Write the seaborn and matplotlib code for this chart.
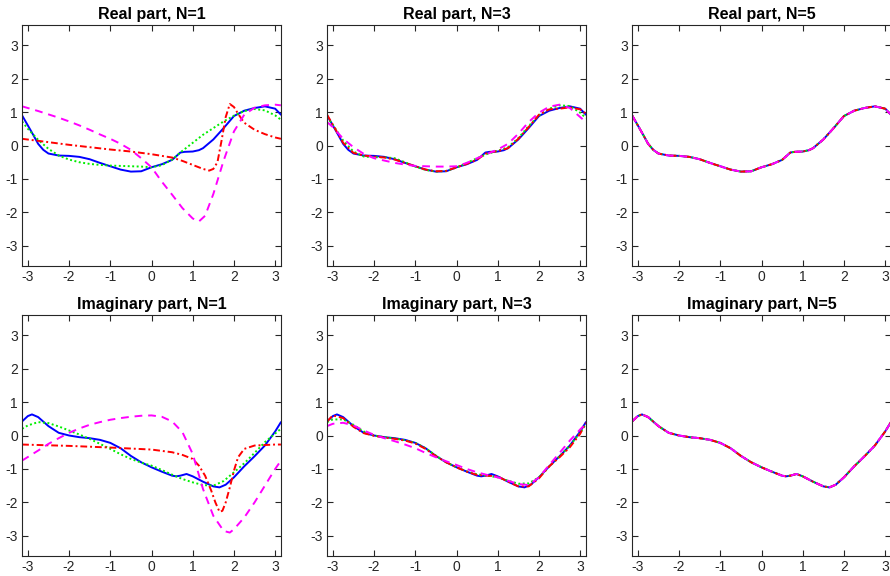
import matplotlib
matplotlib.use("Agg")
import matplotlib.pyplot as plt
import numpy as np
import pandas as pd
import seaborn as sns

# ---------------- data ----------------
x_grid = [-3.14, -3.0, -2.75, -2.5, -2.25, -2.0, -1.75, -1.5, -1.25, -1.0, -0.75,
          -0.5, -0.25, 0.0, 0.25, 0.5, 0.75, 1.0, 1.25, 1.5, 1.75, 2.0, 2.25,
          2.5, 2.75, 3.0, 3.14]

# exact function (blue)
x_blue_re = [-3.14, -3.0, -2.875, -2.75, -2.625, -2.5, -2.25, -2.0, -1.75, -1.5,
             -1.25, -1.0, -0.75, -0.5, -0.25, 0.0, 0.25, 0.5, 0.6, 0.7, 0.8, 1.0,
             1.15, 1.25, 1.5, 1.75, 2.0, 2.25, 2.5, 2.75, 3.0, 3.14]
blue_re = [0.90, 0.60, 0.33, 0.05, -0.13, -0.24, -0.30, -0.31, -0.34, -0.41,
           -0.52, -0.62, -0.72, -0.78, -0.77, -0.65, -0.56, -0.43, -0.32, -0.21,
           -0.19, -0.18, -0.14, -0.08, 0.18, 0.52, 0.88, 1.04, 1.12, 1.17, 1.10, 0.92]

x_blue_im = [-3.14, -3.0, -2.9, -2.75, -2.5, -2.25, -2.0, -1.75, -1.5, -1.25,
             -1.0, -0.75, -0.5, -0.25, 0.0, 0.25, 0.5, 0.6, 0.7, 0.85, 1.0, 1.25,
             1.5, 1.65, 1.8, 2.0, 2.25, 2.5, 2.75, 3.0, 3.14]
blue_im = [0.42, 0.58, 0.63, 0.55, 0.28, 0.08, 0.0, -0.05, -0.08, -0.13,
           -0.22, -0.38, -0.61, -0.80, -0.95, -1.08, -1.20, -1.22, -1.20, -1.15,
           -1.22, -1.38, -1.52, -1.55, -1.47, -1.25, -0.92, -0.62, -0.30, 0.12, 0.40]

# N = 1
green_re_n1 = [0.72, 0.50, 0.17, -0.10, -0.30, -0.42, -0.50, -0.55, -0.58, -0.60,
               -0.61, -0.62, -0.63, -0.65, -0.59, -0.42, -0.16, 0.08, 0.32, 0.52,
               0.72, 0.89, 1.03, 1.09, 1.05, 0.90, 0.77]
x_red_re_n1 = [-3.14, -2.5, -2.0, -1.5, -1.0, -0.5, 0.0, 0.5, 0.75, 1.0, 1.25,
               1.4, 1.5, 1.6, 1.7, 1.8, 1.9, 2.0, 2.1, 2.25, 2.5, 2.75, 3.0, 3.14]
red_re_n1 = [0.20, 0.10, 0.02, -0.05, -0.12, -0.18, -0.26, -0.36, -0.46, -0.58,
             -0.70, -0.75, -0.70, -0.50, 0.15, 0.85, 1.24, 1.15, 0.95, 0.68, 0.47,
             0.34, 0.24, 0.20]
x_mag_re_n1 = [-3.14, -2.75, -2.5, -2.25, -2.0, -1.75, -1.5, -1.25, -1.0, -0.75,
               -0.5, -0.25, 0.0, 0.25, 0.5, 0.75, 1.0, 1.15, 1.3, 1.5, 1.75, 2.0,
               2.25, 2.5, 2.75, 3.0, 3.14]
mag_re_n1 = [1.17, 1.03, 0.93, 0.83, 0.72, 0.60, 0.47, 0.33, 0.20, 0.05, -0.13,
             -0.38, -0.65, -1.08, -1.47, -1.87, -2.18, -2.27, -2.10, -1.45, -0.45,
             0.42, 0.92, 1.13, 1.20, 1.22, 1.20]

green_im_n1 = [0.20, 0.30, 0.40, 0.37, 0.27, 0.15, 0.03, -0.10, -0.25, -0.40,
               -0.56, -0.70, -0.81, -0.90, -1.03, -1.17, -1.30, -1.40, -1.48,
               -1.50, -1.36, -1.10, -0.83, -0.52, -0.20, 0.06, 0.20]
x_red_im_n1 = [-3.14, -2.0, -1.0, 0.0, 0.5, 0.75, 1.0, 1.15, 1.3, 1.45, 1.55,
               1.65, 1.72, 1.8, 1.9, 2.0, 2.1, 2.25, 2.5, 3.0, 3.14]
red_im_n1 = [-0.27, -0.31, -0.36, -0.42, -0.50, -0.58, -0.70, -0.90, -1.20,
             -1.65, -2.00, -2.28, -2.25, -2.00, -1.55, -1.05, -0.65, -0.40,
             -0.30, -0.27, -0.27]
x_mag_im_n1 = [-3.14, -2.75, -2.5, -2.25, -2.0, -1.75, -1.5, -1.25, -1.0, -0.75,
               -0.5, -0.25, 0.0, 0.25, 0.5, 0.75, 1.0, 1.25, 1.5, 1.75, 1.9, 2.0,
               2.25, 2.5, 2.75, 3.0, 3.14]
mag_im_n1 = [-0.75, -0.45, -0.25, -0.08, 0.08, 0.21, 0.32, 0.40, 0.47, 0.52,
             0.56, 0.59, 0.60, 0.56, 0.42, 0.10, -0.55, -1.60, -2.40, -2.85,
             -2.90, -2.80, -2.45, -2.00, -1.50, -1.00, -0.75]

# N = 3
green_re_n3 = [0.85, 0.62, 0.15, -0.18, -0.33, -0.35, -0.35, -0.38, -0.50, -0.63,
               -0.73, -0.78, -0.76, -0.66, -0.52, -0.38, -0.25, -0.16, -0.05,
               0.22, 0.58, 0.90, 1.10, 1.20, 1.18, 0.98, 0.82]
red_re_n3 = [0.92, 0.62, 0.08, -0.22, -0.30, -0.33, -0.36, -0.42, -0.52, -0.62,
             -0.72, -0.77, -0.76, -0.65, -0.55, -0.42, -0.21, -0.17, -0.08, 0.20,
             0.55, 0.92, 1.08, 1.10, 1.14, 1.08, 0.95]
mag_re_n3 = [0.70, 0.55, 0.20, -0.05, -0.25, -0.38, -0.45, -0.52, -0.57, -0.61,
             -0.62, -0.63, -0.63, -0.62, -0.52, -0.38, -0.25, -0.12, 0.05, 0.35,
             0.70, 0.98, 1.16, 1.22, 1.12, 0.85, 0.70]

green_im_n3 = [0.40, 0.48, 0.48, 0.32, 0.12, 0.0, -0.05, -0.09, -0.14, -0.22,
               -0.38, -0.60, -0.80, -0.95, -1.07, -1.16, -1.20, -1.25, -1.35,
               -1.44, -1.43, -1.25, -0.93, -0.62, -0.30, 0.08, 0.35]
red_im_n3 = [0.42, 0.60, 0.52, 0.26, 0.07, -0.01, -0.06, -0.10, -0.15, -0.24,
             -0.40, -0.62, -0.80, -0.95, -1.08, -1.18, -1.20, -1.22, -1.38,
             -1.52, -1.52, -1.28, -0.92, -0.65, -0.35, 0.05, 0.38]
mag_im_n3 = [0.28, 0.35, 0.38, 0.30, 0.15, 0.02, -0.08, -0.17, -0.27, -0.38,
             -0.52, -0.65, -0.77, -0.88, -1.00, -1.10, -1.18, -1.25, -1.35,
             -1.45, -1.48, -1.25, -0.88, -0.52, -0.15, 0.18, 0.35]

# N = 5 : all approximations coincide with the exact curve
green_re_n5, red_re_n5, mag_re_n5 = list(blue_re), list(blue_re), list(blue_re)
green_im_n5, red_im_n5, mag_im_n5 = list(blue_im), list(blue_im), list(blue_im)

titles = ["Real part, N=1", "Real part, N=3", "Real part, N=5",
          "Imaginary part, N=1", "Imaginary part, N=3", "Imaginary part, N=5"]
ticks = [-3, -2, -1, 0, 1, 2, 3]

# ---------------- figure ----------------
sns.set_style("ticks")
plt.rcParams["font.family"] = ["Liberation Sans", "DejaVu Sans"]
plt.rcParams["axes.unicode_minus"] = False

fig = plt.figure(figsize=(8.9, 5.76), dpi=100)
W, H = 890.0, 576.0
lefts = [22, 327, 632]
bottoms = [576 - 266, 576 - 556]
aw, ah = 259, 241

panels = [
    [(x_blue_re, blue_re), (x_grid, green_re_n1), (x_red_re_n1, red_re_n1), (x_mag_re_n1, mag_re_n1)],
    [(x_blue_re, blue_re), (x_grid, green_re_n3), (x_grid, red_re_n3), (x_grid, mag_re_n3)],
    [(x_blue_re, blue_re), (x_blue_re, green_re_n5), (x_blue_re, red_re_n5), (x_blue_re, mag_re_n5)],
    [(x_blue_im, blue_im), (x_grid, green_im_n1), (x_red_im_n1, red_im_n1), (x_mag_im_n1, mag_im_n1)],
    [(x_blue_im, blue_im), (x_grid, green_im_n3), (x_grid, red_im_n3), (x_grid, mag_im_n3)],
    [(x_blue_im, blue_im), (x_blue_im, green_im_n5), (x_blue_im, red_im_n5), (x_blue_im, mag_im_n5)],
]
styles = [
    dict(color="#0000ff", linestyle="-", lw=1.4),
    dict(color="#00ee00", linestyle=(0, (1, 1.3)), lw=1.4),
    dict(color="#ff0000", linestyle=(0, (3.5, 1.5, 1, 1.5)), lw=1.4),
    dict(color="#ff00ff", linestyle=(0, (4, 3)), lw=1.4),
]

for i, (title, series) in enumerate(zip(titles, panels)):
    r, c = divmod(i, 3)
    ax = fig.add_axes([lefts[c] / W, bottoms[r] / H, aw / W, ah / H])
    for (xs, ys), st in zip(series, styles):
        df = pd.DataFrame({"x": xs, "y": ys})
        sns.lineplot(data=df, x="x", y="y", ax=ax, sort=False, estimator=None, **st)
    ax.set_xlim(-np.pi, np.pi)
    ax.set_ylim(-3.6, 3.6)
    ax.set_xticks(ticks)
    ax.set_yticks(ticks)
    ax.set_xlabel("")
    ax.set_ylabel("")
    ax.set_title(title, fontsize=11.5, fontweight="bold", pad=4, color="#000000")
    ax.tick_params(direction="in", length=4, width=0.8, top=True, right=True,
                   labelsize=10, colors="#262626", pad=3)
    for sp in ax.spines.values():
        sp.set_visible(True)
        sp.set_color("#262626")
        sp.set_linewidth(0.8)

fig.savefig("out.png", dpi=100)
